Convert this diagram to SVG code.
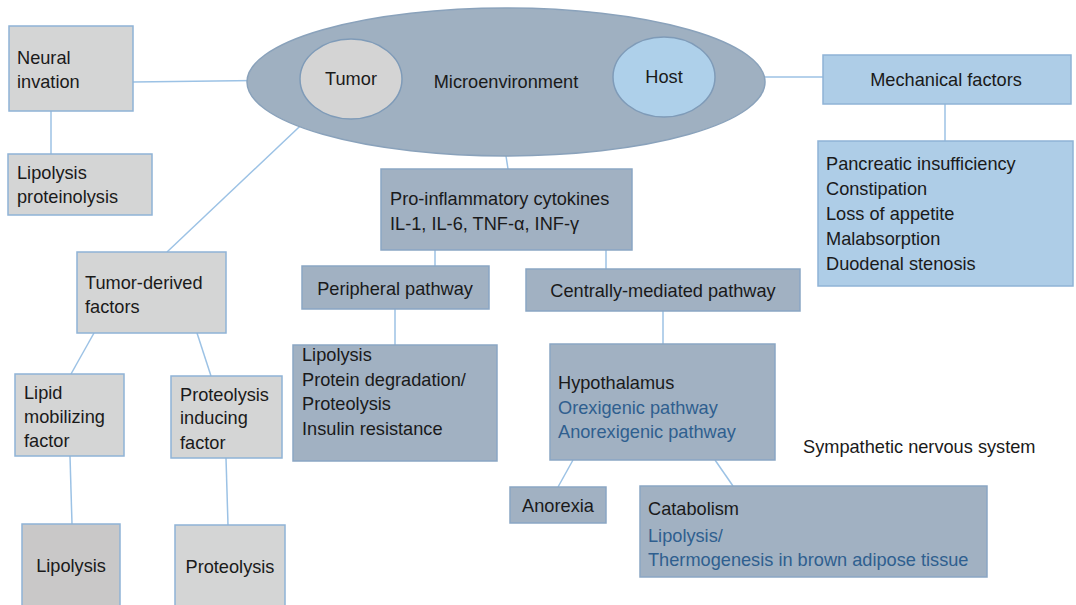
<svg xmlns="http://www.w3.org/2000/svg" width="1076" height="605" viewBox="0 0 1076 605">
<style>
text{font-family:"Liberation Sans",Arial,sans-serif;font-size:18.2px;fill:#1a1a1a}
.c{text-anchor:middle}
.b{fill:#2f5f8f}
.gray{fill:#d4d5d5;stroke:#8fb3d6;stroke-width:1.5}
.dark{fill:#a1b1c2;stroke:#8aa6c4;stroke-width:1.5}
.light{fill:#aecde7;stroke:#8fb3d6;stroke-width:1.5}
.ln{stroke:#9cc2e5;stroke-width:1.5;fill:none}
</style>
<rect width="1076" height="605" fill="#ffffff"/>
<g id="connectors">
<line class="ln" x1="133" y1="82" x2="300" y2="80"/>
<line class="ln" x1="51" y1="111" x2="51" y2="154"/>
<line class="ln" x1="316" y1="111" x2="167" y2="252"/>
<line class="ln" x1="715" y1="77" x2="823" y2="77"/>
<line class="ln" x1="945" y1="104" x2="945" y2="141"/>
<line class="ln" x1="506" y1="156" x2="508" y2="169"/>
<line class="ln" x1="435" y1="250" x2="435" y2="266"/>
<line class="ln" x1="606" y1="250" x2="606" y2="269"/>
<line class="ln" x1="395" y1="309" x2="395" y2="345"/>
<line class="ln" x1="663" y1="311" x2="663" y2="344"/>
<line class="ln" x1="573" y1="460" x2="558" y2="487"/>
<line class="ln" x1="715" y1="460" x2="733" y2="486"/>
<line class="ln" x1="94" y1="333" x2="71" y2="374"/>
<line class="ln" x1="197" y1="333" x2="211" y2="376"/>
<line class="ln" x1="70" y1="456" x2="72" y2="524"/>
<line class="ln" x1="226" y1="458" x2="228" y2="525"/>
</g>
<g id="microenvironment">
<ellipse cx="506" cy="82" rx="259" ry="74" fill="#9fb0c1" stroke="#8aa2bb" stroke-width="1.5"/>
<text class="c" x="506" y="88">Microenvironment</text>
</g>
<g id="tumor">
<ellipse cx="351" cy="79" rx="51" ry="40" fill="#d4d4d4" stroke="#7f9bb8" stroke-width="1.5"/>
<text class="c" x="351" y="85">Tumor</text>
</g>
<g id="host">
<ellipse cx="664" cy="77" rx="51" ry="40" fill="#aed0ea" stroke="#7f9bb8" stroke-width="1.5"/>
<text class="c" x="664" y="83">Host</text>
</g>
<g id="neural">
<rect class="gray" x="9" y="26" width="124" height="85"/>
<text x="17" y="64">Neural</text>
<text x="17" y="88">invation</text>
</g>
<g id="lipoprot">
<rect class="gray" x="8" y="154" width="144" height="61"/>
<text x="17" y="179">Lipolysis</text>
<text x="17" y="203">proteinolysis</text>
</g>
<g id="mechanical">
<rect class="light" x="823" y="55" width="248" height="49"/>
<text class="c" x="946" y="86">Mechanical factors</text>
</g>
<g id="mechlist">
<rect class="light" x="818" y="141" width="255" height="145"/>
<text x="826" y="170">Pancreatic insufficiency</text>
<text x="826" y="195">Constipation</text>
<text x="826" y="220">Loss of appetite</text>
<text x="826" y="245">Malabsorption</text>
<text x="826" y="270">Duodenal stenosis</text>
</g>
<g id="cytokines">
<rect class="dark" x="381" y="169" width="251" height="81"/>
<text x="390" y="205">Pro-inflammatory cytokines</text>
<text x="390" y="230">IL-1, IL-6, TNF-α, INF-γ</text>
</g>
<g id="peripheral">
<rect class="dark" x="302" y="266" width="187" height="43"/>
<text class="c" x="395" y="295">Peripheral pathway</text>
</g>
<g id="central">
<rect class="dark" x="526" y="269" width="274" height="42"/>
<text class="c" x="663" y="297">Centrally-mediated pathway</text>
</g>
<g id="periph-effects">
<rect class="dark" x="293" y="345" width="204" height="116"/>
<text x="302" y="361">Lipolysis</text>
<text x="302" y="386">Protein degradation/</text>
<text x="302" y="410">Proteolysis</text>
<text x="302" y="435">Insulin resistance</text>
</g>
<g id="hypothalamus">
<rect class="dark" x="550" y="344" width="225" height="116"/>
<text x="558" y="389">Hypothalamus</text>
<text class="b" x="558" y="414">Orexigenic pathway</text>
<text class="b" x="558" y="438">Anorexigenic pathway</text>
</g>
<g id="sns">
<text x="803" y="453">Sympathetic nervous system</text>
</g>
<g id="anorexia">
<rect class="dark" x="510" y="487" width="96" height="36"/>
<text class="c" x="558" y="512">Anorexia</text>
</g>
<g id="catabolism">
<rect class="dark" x="640" y="486" width="347" height="91"/>
<text x="648" y="515">Catabolism</text>
<text class="b" x="648" y="542">Lipolysis/</text>
<text class="b" x="648" y="566">Thermogenesis in brown adipose tissue</text>
</g>
<g id="tumor-derived">
<rect class="gray" x="77" y="252" width="149" height="81"/>
<text x="85" y="289">Tumor-derived</text>
<text x="85" y="313">factors</text>
</g>
<g id="lmf">
<rect class="gray" x="15" y="374" width="109" height="82"/>
<text x="24" y="399">Lipid</text>
<text x="24" y="423">mobilizing</text>
<text x="24" y="447">factor</text>
</g>
<g id="pif">
<rect class="gray" x="171" y="376" width="111" height="82"/>
<text x="180" y="401">Proteolysis</text>
<text x="180" y="424">inducing</text>
<text x="180" y="449">factor</text>
</g>
<g id="lipolysis">
<rect x="22" y="524" width="98" height="86" fill="#c9c8c8" stroke="#8fb3d6" stroke-width="1.5"/>
<text class="c" x="71" y="572">Lipolysis</text>
</g>
<g id="proteolysis">
<rect class="gray" x="175" y="525" width="110" height="85"/>
<text class="c" x="230" y="573">Proteolysis</text>
</g>
</svg>
